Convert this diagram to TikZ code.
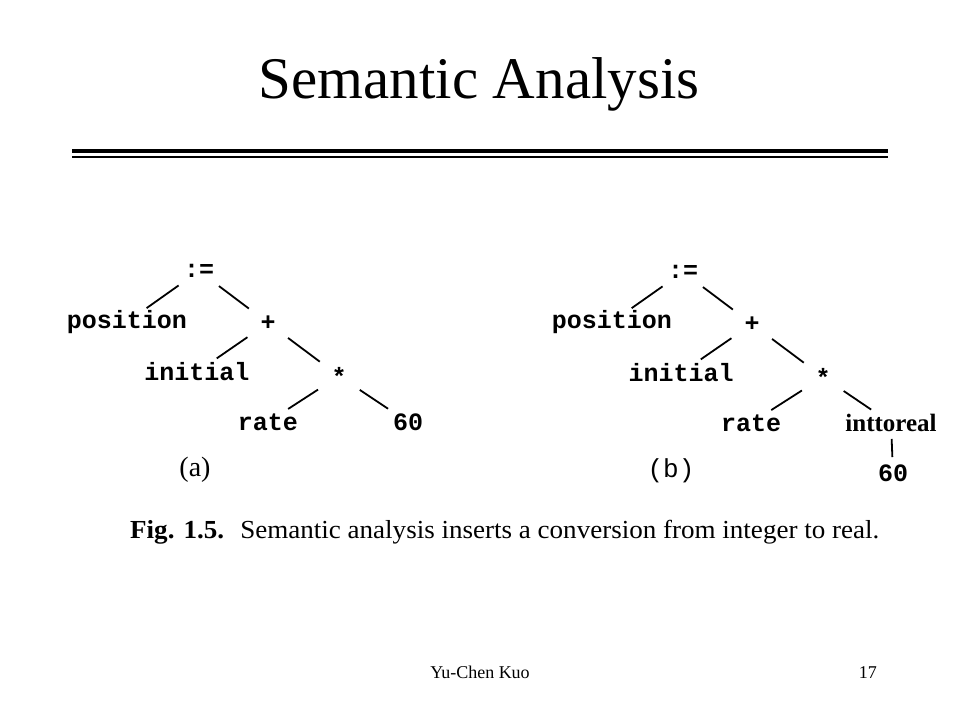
\documentclass[tikz,border=0pt]{standalone}
\usepackage{fontspec}
\setmainfont{Liberation Serif}
\newfontfamily\monofont{Liberation Mono}
\begin{document}
\begin{tikzpicture}[x=1pt,y=-1pt,
  tt/.style={inner sep=0pt,font=\monofont\bfseries\fontsize{25}{25}\selectfont},
  edge/.style={line width=1.8pt,shorten <=25pt,shorten >=24pt},
  vedge/.style={line width=1.8pt,shorten <=16pt,shorten >=16pt}]
\useasboundingbox[fill=white] (0,0) rectangle (960,720);
% title
\node[anchor=base,inner sep=0pt,font=\fontsize{59}{59}\selectfont] (title) at (479,98) {Semantic Analysis};
\draw[line width=4pt] (72,151) -- (888,151);
\draw[line width=2pt] (72,157) -- (888,157);
% tree (a)
\node[tt] (a1) at (199,271) {:=};
\node[tt] (a2) at (127,322) {position};
\node[tt] (a3) at (268,323) {+};
\node[tt] (a4) at (197,372) {initial};
\node[tt] (a5) at (339,376) {*};
\node[tt] (a6) at (268,422) {rate};
\node[tt] (a7) at (408,422) {60};
\node[inner sep=0pt,font=\fontsize{28}{28}\selectfont] (la) at (195,470) {(a)};
\draw[edge] (a1.center) -- (a2.center);
\draw[edge] (a1.center) -- (a3.center);
\draw[edge] (a3.center) -- (a4.center);
\draw[edge] (a3.center) -- (a5.center);
\draw[edge] (a5.center) -- (a6.center);
\draw[edge] (a5.center) -- (a7.center);
% tree (b)
\node[tt] (b1) at (683,272) {:=};
\node[tt] (b2) at (612,322) {position};
\node[tt] (b3) at (752,324) {+};
\node[tt] (b4) at (681,373) {initial};
\node[tt] (b5) at (823,377) {*};
\node[tt] (b6) at (751,423) {rate};
\node[inner sep=0pt,font=\bfseries\fontsize{25}{25}\selectfont] (b7) at (891,423) {inttoreal};
\node[tt] (b8) at (893,473) {60};
\node[inner sep=0pt,font=\monofont\fontsize{26}{26}\selectfont] (lb) at (671,471) {(b)};
\draw[edge] (b1.center) -- (b2.center);
\draw[edge] (b1.center) -- (b3.center);
\draw[edge] (b3.center) -- (b4.center);
\draw[edge] (b3.center) -- (b5.center);
\draw[edge] (b5.center) -- (b6.center);
\draw[edge] (b5.center) -- (b7.center);
\draw[vedge] (b7.center) -- (b8.center);
% caption
\node[anchor=base west,inner sep=0pt,xscale=1.04,font=\fontsize{26}{26}\selectfont] (cap) at (130,538) {\textbf{Fig. 1.5.}\hspace{0.6em}Semantic analysis inserts a conversion from integer to real.};
% footer
\node[anchor=base,inner sep=0pt,font=\fontsize{18}{18}\selectfont] (auth) at (480,678) {Yu-Chen Kuo};
\node[anchor=base east,inner sep=0pt,font=\fontsize{18}{18}\selectfont] (pg) at (877,678) {17};
\end{tikzpicture}
\end{document}
